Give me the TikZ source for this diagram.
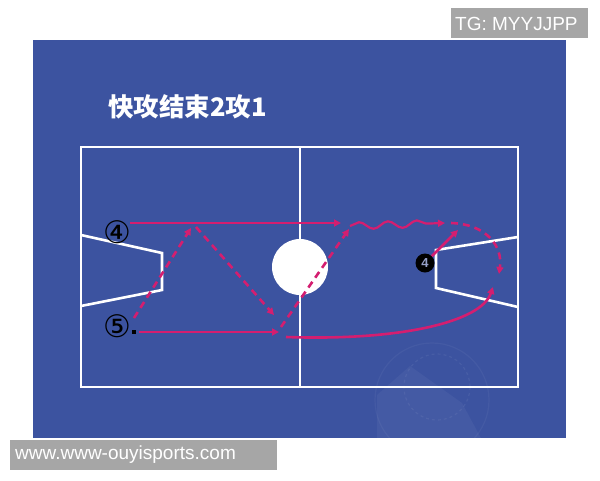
\documentclass[tikz,border=0pt]{standalone}
\usepackage{fontspec}
\setmainfont{Liberation Sans}
\newfontfamily\cjk{Noto Sans CJK SC}
\newfontfamily\dvs{DejaVu Sans}
\usetikzlibrary{arrows.meta,decorations.pathmorphing}
\definecolor{bg}{RGB}{60,83,160}
\definecolor{pk}{RGB}{212,30,112}
\definecolor{gbox}{RGB}{166,166,166}
\definecolor{dnum}{RGB}{150,160,200}
\tikzset{
  court/.style={draw=white,line width=2.6pt},
  run/.style={draw=pk,line width=2.6pt,-{Triangle[length=7pt,width=7pt]}},
  pass/.style={draw=pk,line width=2.6pt,dash pattern=on 7pt off 5pt,-{Triangle[length=7pt,width=7pt]}},
  dribble/.style={draw=pk,line width=2.2pt,decorate,decoration={snake,amplitude=3.5pt,segment length=29pt,post length=6pt}},
  circnum/.style={text=black,font=\dvs\fontsize{31}{31}\selectfont,inner sep=0pt},
  defender/.style={circle,fill=black,minimum size=19pt,inner sep=0pt,text=dnum,font=\bfseries\fontsize{13}{13}\selectfont},
  wbox/.style={fill=gbox,text=white,inner sep=0pt,anchor=west,font=\fontsize{19}{19}\selectfont}
}
\begin{document}
\begin{tikzpicture}[x=1pt,y=-1pt]
\useasboundingbox (0,0) rectangle (600,480);
\fill[white] (0,0) rectangle (600,480);
\fill[bg] (33,40) rectangle (566,438);
% faint watermark
\begin{scope}
\clip (33,40) rectangle (566,438);
\fill[white,opacity=0.045] (377,400) -- (377,395) -- (410,366) -- (462,403) -- (482,440) -- (377,440) -- cycle;
\draw[white,opacity=0.06,line width=1.2pt,dashed] (437,387) circle (33);
\draw[white,opacity=0.045,line width=1.2pt] (432,400) circle (57);
\end{scope}
% title
\node[text=white,font=\cjk\bfseries\fontsize{25.5}{25.5}\selectfont,anchor=west,inner sep=0pt] (title) at (108,107) {快攻结束2攻1};
% court
\draw[court] (81,147) rectangle (518,387);
\draw[court] (300,147) -- (300,387);
\node[circle,fill=white,minimum size=56pt,inner sep=0pt] (ball) at (300,267) {};
\draw[court] (81,235) -- (162,253) -- (162,290) -- (81,306);
\draw[court] (518,237) -- (436,250) -- (436,288) -- (518,307);
% players
\node[circnum] (p4) at (117,232) {④};
\node[circnum] (p5) at (117,326) {⑤};
\node[fill=black,minimum size=3.5pt,inner sep=0pt] (dot5) at (134,332) {};
\node[defender] (d4) at (425,263) {4};
% coordinates
\coordinate (a1) at (130,223);
\coordinate (a2) at (341,223);
\coordinate (b1) at (139,332);
\coordinate (b2) at (279,332);
\coordinate (q1) at (134,318);
\coordinate (q2) at (191,228);
\coordinate (r1) at (196,227);
\coordinate (r2) at (274,315);
\coordinate (s1) at (281,327);
\coordinate (s2) at (349,229);
\coordinate (w1) at (350,226);
\coordinate (w2) at (445,223);
\coordinate (t1) at (451,223);
\coordinate (t2) at (499,274);
\coordinate (u1) at (286,337);
\coordinate (u2) at (493,287);
\coordinate (v2) at (458,230);
% movements
\draw[run] (a1) -- (a2);
\draw[run] (b1) -- (b2);
\draw[pass] (q1) -- (q2);
\draw[pass] (r1) -- (r2);
\draw[pass] (s1) -- (s2);
\draw[dribble,-{Triangle[length=7pt,width=7pt]}] (w1) -- (w2);
\draw[pass] (t1) .. controls (486,224) and (503,246) .. (t2);
\draw[run] (u1) .. controls (400,341) and (481,322) .. (u2);
\draw[run] (d4) -- (v2);
% watermark labels
\node[wbox,minimum width=137pt,minimum height=30pt] (tgbox) at (451,23) {};
\node[text=white,anchor=west,inner sep=0pt,font=\fontsize{19}{19}\selectfont] (tg) at (455,24) {TG: MYYJJPP};
\node[wbox,minimum width=267pt,minimum height=30pt] (wwwbox) at (10,455) {};
\node[text=white,anchor=west,inner sep=0pt,font=\fontsize{19}{19}\selectfont] (www) at (15,455) {www.www-ouyisports.com};
\end{tikzpicture}
\end{document}
